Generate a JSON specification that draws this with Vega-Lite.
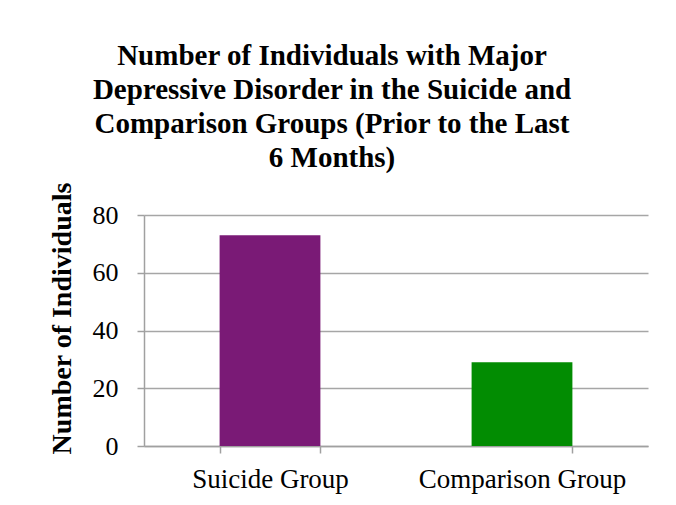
{
  "$schema": "https://vega.github.io/schema/vega-lite/v6.json",
  "autosize": {"type": "none"},
  "width": 504,
  "height": 231,
  "padding": {"left": 144, "top": 215, "right": 28, "bottom": 59},
  "background": "white",
  "data": {"values": [
    {"group": "Suicide Group", "count": 73},
    {"group": "Comparison Group", "count": 29}
  ]},
  "title": {
    "text": ["Number of Individuals with Major", "Depressive Disorder in the Suicide and", "Comparison Groups (Prior to the Last", "6 Months)"],
    "font": "Liberation Serif",
    "fontSize": 29,
    "fontWeight": "bold",
    "lineHeight": 34,
    "color": "black",
    "anchor": "middle",
    "dx": -64,
    "offset": 9
  },
  "mark": {"type": "bar"},
  "encoding": {
    "x": {
      "field": "group", "type": "nominal", "sort": null,
      "scale": {"paddingInner": 0.6, "paddingOuter": 0.3},
      "axis": {"title": null, "labelAngle": 0, "labelLimit": 0, "labelFont": "Liberation Serif", "labelFontSize": 27, "labelColor": "black", "labelPadding": 13, "domainColor": "#a0a0a0", "domainWidth": 1.5, "tickColor": "#a0a0a0", "tickSize": 7, "tickWidth": 1.5, "tickBand": "extent"}
    },
    "y": {
      "field": "count", "type": "quantitative",
      "scale": {"domain": [0, 80]},
      "axis": {"title": "Number of Individuals", "titleFont": "Liberation Serif", "titleFontSize": 28, "titleFontWeight": "bold", "titleColor": "black", "titleBaseline": "alphabetic", "titleX": -74, "titleY": 103, "titleAnchor": "middle", "values": [0, 20, 40, 60, 80], "labelFont": "Liberation Serif", "labelFontSize": 26, "labelColor": "black", "labelPadding": 19, "domainColor": "#a0a0a0", "domainWidth": 1.5, "tickColor": "#a0a0a0", "tickSize": 7, "tickWidth": 1.5, "gridColor": "#a6a6a6", "gridWidth": 1.5}
    },
    "color": {
      "field": "group", "type": "nominal", "legend": null,
      "scale": {"domain": ["Suicide Group", "Comparison Group"], "range": ["#7a1a76", "#028c02"]}
    }
  },
  "config": {"view": {"stroke": null}}
}
